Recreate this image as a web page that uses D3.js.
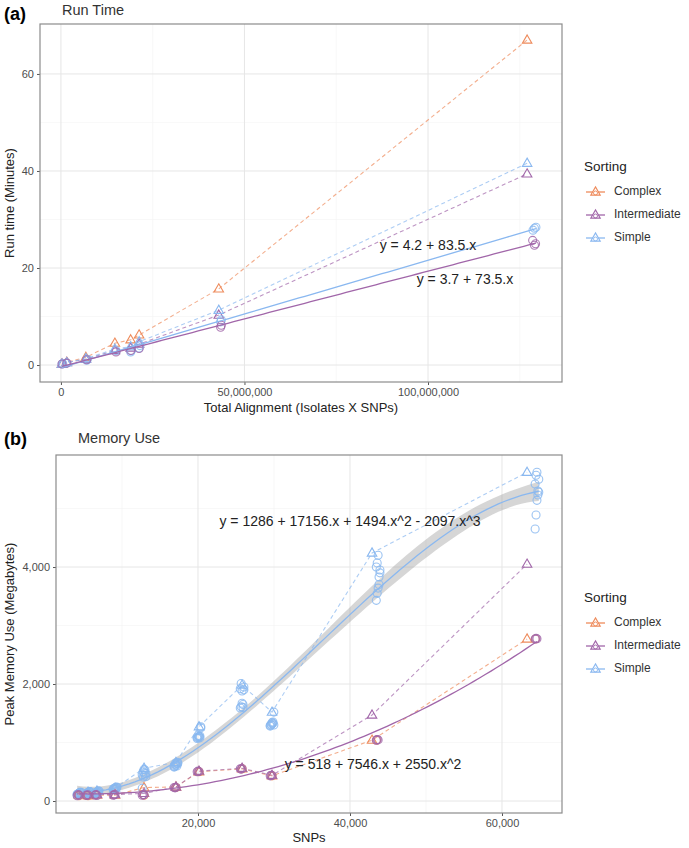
<!DOCTYPE html>
<html><head><meta charset="utf-8">
<script src="https://cdn.jsdelivr.net/npm/d3@7"></script>
<style>body{margin:0;background:#fff;font-family:"Liberation Sans",Arial,sans-serif}</style>
</head><body><svg id="c" width="689" height="848"></svg>
<script>
// ---------- DATA ----------
const sortings = ["Complex","Intermediate","Simple"];
const colors = {Complex:"#EE8B5C", Intermediate:"#A166A9", Simple:"#8AB8F0"};

// Panel (a) Run time
const aTriComplexX = [0.3e6,1.6e6,6.8e6,14.7e6,19e6,21.3e6,43e6,127e6];
const aTriComplexY = [0.2,0.6,1.6,4.5,5.2,6.2,15.7,67];
const aTriInterX = [0.3e6,1.6e6,6.8e6,14.7e6,19e6,21.3e6,43e6,127e6];
const aTriInterY = [0.2,0.5,1.2,3.0,3.5,4.3,10.3,39.4];
const aTriSimpleX = [0.3e6,1.6e6,6.8e6,14.7e6,19e6,21.3e6,43e6,127e6];
const aTriSimpleY = [0.2,0.5,1.3,3.3,3.8,4.8,11.3,41.6];
const aCircInterX = [0.3e6,1.6e6,7e6,15e6,19e6,21.3e6,43.5e6,43.7e6,128.5e6,129e6,129.3e6];
const aCircInterY = [0.2,0.4,1.1,2.7,3.0,3.4,7.8,8.2,25.7,24.7,25.0];
const aCircSimpleX = [0.3e6,0.5e6,1.6e6,7e6,7.2e6,15e6,19e6,19.2e6,21.3e6,21.5e6,43.5e6,43.7e6,128.6e6,129e6,129.4e6];
const aCircSimpleY = [0.2,0.3,0.4,1.0,1.2,3.0,2.7,3.0,3.5,4.0,8.9,9.3,27.8,28.2,28.4];
const aEquations = ["y = 4.2 + 83.5.x","y = 3.7 + 73.5.x"];

// Panel (b) Memory use
const bTriComplexX = [4340,5530,6710,9080,12900,17100,20130,25800,29740,42900,63300];
const bTriComplexY = [100,90,100,100,230,240,500,550,430,1040,2770];
const bTriInterX = [4340,5530,6710,9080,12900,17100,20130,25800,29740,42900,63300];
const bTriInterY = [120,110,110,110,130,240,510,560,440,1470,4050];
const bTriSimpleX = [4340,5530,6710,9080,12900,17100,20130,25800,29740,42900,63300];
const bTriSimpleY = [130,150,170,220,560,660,1270,1980,1520,4240,5620];
// circles: one x per dataset, replicate y values per dataset
const bCircSimpleX = [4340,5530,6710,9080,12900,17100,20130,25800,29740,43700,64600];
const bCircSimpleY = [
  [110,120,130,140,150,115,125,135,145,150],
  [120,130,140,150,160,125,135,145,155,160],
  [130,140,150,160,170,135,145,155,165,170],
  [190,200,210,220,230,205,215,225,235,240],
  [220,410,480,530,420,450,500,540,440,470],
  [580,600,620,640,660,590,630,650,600,640],
  [1070,1080,1100,1110,1270,1090,1120,1100,1080,1250],
  [1590,1610,1670,1650,1900,1920,2010,1880,1600,1950],
  [1280,1300,1320,1350,1520,1290,1310,1340,1330,1300],
  [3430,3550,3640,3830,3950,4000,4070,4200,3700,3900],
  [4650,4890,5140,5230,5280,5420,5570,5620,5300,5500]];
const bCircInterX = [4340,5530,6710,9080,12900,17100,20130,25800,29740,43700,64600];
const bCircInterY = [
  [90,110,100],[100,95,105],[100,110,95],[100,105,110],[100,110,105],[230,225,235],
  [500,510,505],[550,545,555],[430,440,435],[1040,1050,1045],[2770,2780,2775]];
const bCircComplexX = [4340,5530,12900,17100,20130,25800,29740,43500,64400];
const bCircComplexY = [90,90,100,230,500,550,430,1040,2770];
const bEquations = ["y = 1286 + 17156.x + 1494.x^2 - 2097.x^3","y = 518 + 7546.x + 2550.x^2"];

const aXTicks = [0,50e6,100e6], aXMinor = [25e6,75e6,125e6];
const aYTicks = [0,20,40,60], aYMinor = [10,30,50];
const bXTicks = [20000,40000,60000], bXMinor = [10000,30000,50000];
const bYTicks = [0,2000,4000], bYMinor = [1000,3000,5000];

// ---------- helpers ----------
const zip = (xs,ys)=>xs.map((x,i)=>({x,y:ys[i]}));
const groups = (xs,yss)=>xs.flatMap((x,i)=>yss[i].map((y,j)=>({x:x+((j%5)-2)*120,y})));
function polyfit(pts, deg){
  const n=pts.length, mx=d3.mean(pts,p=>p.x), sx=d3.deviation(pts,p=>p.x);
  const row = x=>{const t=(x-mx)/sx; const r=[]; for(let k=0;k<=deg;k++) r.push(Math.pow(t,k)); return r;};
  const p=deg+1, A=[...Array(p)].map(()=>Array(p).fill(0)), b=Array(p).fill(0);
  pts.forEach(q=>{const r=row(q.x); for(let i=0;i<p;i++){b[i]+=r[i]*q.y; for(let j=0;j<p;j++)A[i][j]+=r[i]*r[j];}});
  const M=A.map((r,i)=>[...r,...[...Array(p)].map((_,j)=>i===j?1:0)]);
  for(let c=0;c<p;c++){let piv=c; for(let r=c+1;r<p;r++) if(Math.abs(M[r][c])>Math.abs(M[piv][c])) piv=r;
    [M[c],M[piv]]=[M[piv],M[c]]; const v=M[c][c]; for(let j=0;j<2*p;j++) M[c][j]/=v;
    for(let r=0;r<p;r++) if(r!==c){const f=M[r][c]; for(let j=0;j<2*p;j++) M[r][j]-=f*M[c][j];}}
  const inv=M.map(r=>r.slice(p));
  const beta=inv.map(r=>r.reduce((s,v,j)=>s+v*b[j],0));
  const pred=x=>row(x).reduce((s,v,k)=>s+v*beta[k],0);
  const rss=d3.sum(pts,q=>(q.y-pred(q.x))**2), s2=rss/(n-p);
  const se=x=>{const r=row(x); let v=0; for(let i=0;i<p;i++)for(let j=0;j<p;j++)v+=r[i]*inv[i][j]*r[j]; return Math.sqrt(v*s2);};
  return {pred,se};
}

const svg=d3.select("#c");
const FONT='"Liberation Sans",Arial,sans-serif';

function triPath(s){const h=s*0.866; return `M0,${-h*0.62}L${s/2},${h*0.38}L${-s/2},${h*0.38}Z`;}

function panel(cfg){
  const {L,R,T,B,xDom,yDom}=cfg;
  const x=d3.scaleLinear().domain(xDom).range([L,R]);
  const y=d3.scaleLinear().domain(yDom).range([B,T]);
  const g=svg.append("g");
  g.append("rect").attr("x",L).attr("y",T).attr("width",R-L).attr("height",B-T).attr("fill","#fff");
  const grid=g.append("g");
  cfg.xMinor.forEach(v=>grid.append("line").attr("x1",x(v)).attr("x2",x(v)).attr("y1",T).attr("y2",B).attr("stroke","#f3f3f3").attr("stroke-width",0.6));
  cfg.yMinor.forEach(v=>grid.append("line").attr("y1",y(v)).attr("y2",y(v)).attr("x1",L).attr("x2",R).attr("stroke","#f3f3f3").attr("stroke-width",0.6));
  cfg.xTicks.forEach(v=>grid.append("line").attr("x1",x(v)).attr("x2",x(v)).attr("y1",T).attr("y2",B).attr("stroke","#e6e6e6").attr("stroke-width",1));
  cfg.yTicks.forEach(v=>grid.append("line").attr("y1",y(v)).attr("y2",y(v)).attr("x1",L).attr("x2",R).attr("stroke","#e6e6e6").attr("stroke-width",1));
  const fmt=d3.format(",");
  const ax=d3.axisBottom(x).tickValues(cfg.xTicks).tickFormat(fmt).tickSize(3).tickPadding(3);
  const ay=d3.axisLeft(y).tickValues(cfg.yTicks).tickFormat(fmt).tickSize(3).tickPadding(3);
  const gx=g.append("g").attr("transform",`translate(0,${B})`).call(ax);
  const gy=g.append("g").attr("transform",`translate(${L},0)`).call(ay);
  [gx,gy].forEach(a=>{a.select(".domain").remove(); a.selectAll("line").attr("stroke","#555");
    a.selectAll("text").attr("fill","#4d4d4d").style("font-family",FONT).style("font-size","11px");});
  return {x,y,g};
}

function dashedTri(p, pts, col){
  const line=d3.line().x(d=>p.x(d.x)).y(d=>p.y(d.y));
  p.g.append("path").attr("d",line(pts)).attr("fill","none").attr("stroke",col).attr("stroke-opacity",0.7)
    .attr("stroke-width",1.1).attr("stroke-dasharray","4,3");
  p.g.selectAll(null).data(pts).enter().append("path").attr("d",triPath(9.5))
    .attr("transform",d=>`translate(${p.x(d.x)},${p.y(d.y)})`).attr("fill","none").attr("stroke",col).attr("stroke-width",1.1);
}
function circles(p, pts, col){
  p.g.selectAll(null).data(pts).enter().append("circle").attr("cx",d=>p.x(d.x)).attr("cy",d=>p.y(d.y)).attr("r",4)
    .attr("fill","none").attr("stroke",col).attr("stroke-width",1.1).attr("stroke-opacity",0.85);
}
function fitLine(p, pts, deg, col, band){
  const f=polyfit(pts,deg);
  const [lo,hi]=d3.extent(pts,d=>d.x);
  const xs=d3.range(81).map(i=>lo+(hi-lo)*i/80);
  if(band){
    const area=d3.area().x(d=>p.x(d)).y0(d=>p.y(f.pred(d)-1.97*f.se(d))).y1(d=>p.y(f.pred(d)+1.97*f.se(d)));
    p.g.append("path").attr("d",area(xs)).attr("fill","#999").attr("fill-opacity",0.4);
  }
  const line=d3.line().x(d=>p.x(d)).y(d=>p.y(f.pred(d)));
  p.g.append("path").attr("d",line(xs)).attr("fill","none").attr("stroke",col).attr("stroke-width",1.3);
}
function border(c){svg.append("rect").attr("x",c.L).attr("y",c.T).attr("width",c.R-c.L).attr("height",c.B-c.T)
  .attr("fill","none").attr("stroke","#8c8c8c").attr("stroke-width",1.2);}

function legend(x0,y0){
  const g=svg.append("g").style("font-family",FONT);
  g.append("text").attr("x",x0).attr("y",y0).text("Sorting").attr("font-size","13.5px").attr("fill","#222").attr("dominant-baseline","middle");
  sortings.forEach((s,i)=>{
    const yy=y0+25+i*23, c=colors[s];
    g.append("line").attr("x1",x0+2).attr("x2",x0+21).attr("y1",yy).attr("y2",yy).attr("stroke",c).attr("stroke-width",1.3);
    g.append("path").attr("d",triPath(9.5)).attr("transform",`translate(${x0+11.5},${yy})`).attr("fill","#fff").attr("stroke",c).attr("stroke-width",1.1);
    g.append("circle").attr("cx",x0+11.5).attr("cy",yy+1).attr("r",2).attr("fill","none").attr("stroke",c).attr("stroke-width",0.9);
    g.append("text").attr("x",x0+30).attr("y",yy).attr("dominant-baseline","middle").attr("font-size","12px").attr("fill","#333").text(s);
  });
}

function txt(x,y,s,opt={}){
  const t=svg.append("text").attr("x",x).attr("y",y).text(s).style("font-family",FONT)
    .attr("font-size",opt.size||"13px").attr("fill",opt.fill||"#222").attr("dominant-baseline","middle")
    .attr("text-anchor",opt.anchor||"start");
  if(opt.bold) t.attr("font-weight","bold");
  if(opt.rot) t.attr("transform",`rotate(-90,${x},${y})`);
  return t;
}

// ---------- Panel A ----------
const cA={L:40,R:562,T:24,B:382,xDom:[-5.7e6,136.5e6],yDom:[-3.5,70.3],xTicks:aXTicks,xMinor:aXMinor,yTicks:aYTicks,yMinor:aYMinor};
const pA=panel(cA);
dashedTri(pA, zip(aTriComplexX,aTriComplexY), colors.Complex);
dashedTri(pA, zip(aTriInterX,aTriInterY), colors.Intermediate);
dashedTri(pA, zip(aTriSimpleX,aTriSimpleY), colors.Simple);
circles(pA, zip(aCircSimpleX,aCircSimpleY), colors.Simple);
circles(pA, zip(aCircInterX,aCircInterY), colors.Intermediate);
fitLine(pA, zip(aCircSimpleX,aCircSimpleY), 1, colors.Simple, false);
fitLine(pA, zip(aCircInterX,aCircInterY), 1, colors.Intermediate, false);
border(cA);
txt(428,246,aEquations[0],{size:"14px",anchor:"middle",fill:"#222"});
txt(465,280,aEquations[1],{size:"14px",anchor:"middle",fill:"#222"});
txt(4,15,"(a)",{size:"18px",bold:true,fill:"#000"});
txt(62,11,"Run Time",{size:"14.5px",fill:"#333"});
txt(301,409,"Total Alignment (Isolates X SNPs)",{size:"13px",anchor:"middle"});
txt(11,203,"Run time (Minutes)",{size:"13px",anchor:"middle",rot:true});
legend(584,167);

// ---------- Panel B ----------
const cB={L:56,R:562,T:455,B:813,xDom:[1316,67895],yDom:[-205,5915],xTicks:bXTicks,xMinor:bXMinor,yTicks:bYTicks,yMinor:bYMinor};
const pB=panel(cB);
const bSimplePts=groups(bCircSimpleX,bCircSimpleY);
const bInterPts=groups(bCircInterX,bCircInterY);
fitLine(pB, bSimplePts, 3, colors.Simple, true);
dashedTri(pB, zip(bTriComplexX,bTriComplexY), colors.Complex);
dashedTri(pB, zip(bTriInterX,bTriInterY), colors.Intermediate);
dashedTri(pB, zip(bTriSimpleX,bTriSimpleY), colors.Simple);
circles(pB, bSimplePts, colors.Simple);
circles(pB, zip(bCircComplexX,bCircComplexY), colors.Complex);
circles(pB, bInterPts, colors.Intermediate);
fitLine(pB, bInterPts, 2, colors.Intermediate, false);
border(cB);
txt(350,522,bEquations[0],{size:"14px",anchor:"middle"});
txt(373,765,bEquations[1],{size:"14px",anchor:"middle"});
txt(4,440,"(b)",{size:"18px",bold:true,fill:"#000"});
txt(78,439,"Memory Use",{size:"14.5px",fill:"#333"});
txt(309,839,"SNPs",{size:"13px",anchor:"middle"});
txt(11,634,"Peak Memory Use (Megabytes)",{size:"13px",anchor:"middle",rot:true});
legend(584,598);
</script></body></html>
